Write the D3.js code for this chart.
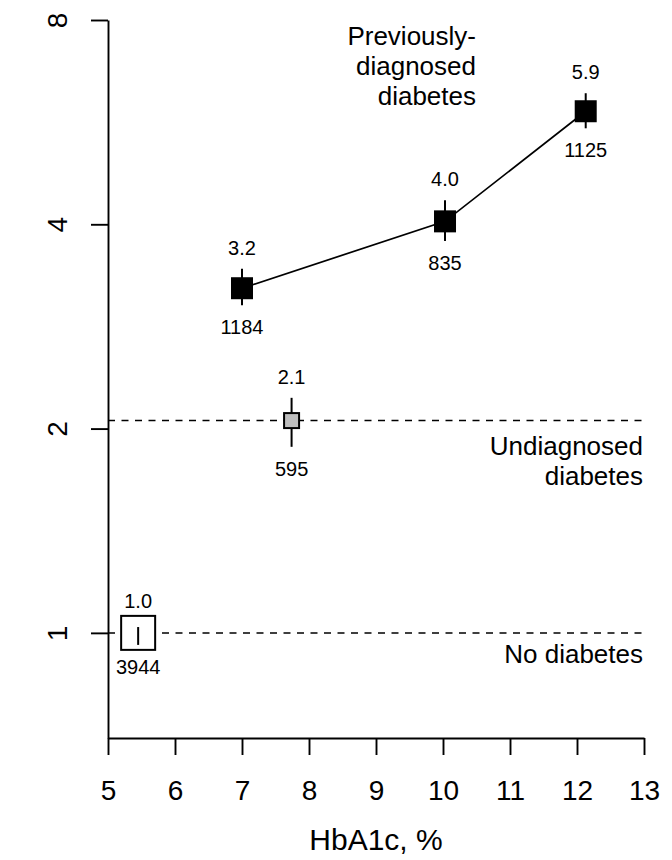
<!DOCTYPE html>
<html>
<head>
<meta charset="utf-8">
<script src="https://cdn.jsdelivr.net/npm/d3@7"></script>
<style>
  body { margin: 0; background: #fff; }
  text { font-family: "Liberation Sans", Arial, sans-serif; fill: #000; }
</style>
</head>
<body>
<div id="chart"></div>
<script>

// data
var groupNames = ["No diabetes", "Undiagnosed diabetes", "Previously-diagnosed diabetes"];
var pointGroup = [0, 1, 2, 2, 2];
var hba1c = [5.45, 7.74, 7.0, 10.03, 12.13];
var ratio = [1.0, 2.055, 3.22, 4.04, 5.87];
var ratioLo = [0.96, 1.88, 3.04, 3.78, 5.54];
var ratioHi = [1.02, 2.22, 3.44, 4.34, 6.24];
var counts = [3944, 595, 1184, 835, 1125];

var xTicks = [5, 6, 7, 8, 9, 10, 11, 12, 13];
var yTicks = [1, 2, 4, 8];

// marker look per group
var markerSize = [34, 15, 22];
var markerFill = ["#ffffff", "#bebebe", "#000000"];

var svgWidth = 672;
var svgHeight = 860;

var svg = d3.select("#chart")
  .append("svg")
  .attr("width", svgWidth)
  .attr("height", svgHeight);

var xScale = d3.scaleLinear()
  .domain([5, 13])
  .range([108, 644]);

var yScale = d3.scaleLog()
  .base(2)
  .domain([0.7, 8])
  .range([738, 20]);

var points = hba1c.map(function(x, i) {
  return {
    x: x, rr: ratio[i], lo: ratioLo[i], hi: ratioHi[i],
    n: counts[i], g: pointGroup[i]
  };
});

// axes
var xAxis = d3.axisBottom(xScale)
  .tickValues(xTicks)
  .tickSize(17)
  .tickSizeOuter(0)
  .tickPadding(25)
  .tickFormat(d3.format("d"));

var yAxis = d3.axisLeft(yScale)
  .tickValues(yTicks)
  .tickSize(17)
  .tickSizeOuter(0)
  .tickFormat(d3.format("d"));

var gx = svg.append("g")
  .attr("transform", "translate(0,738)")
  .call(xAxis);

var gy = svg.append("g")
  .attr("transform", "translate(108,0)")
  .call(yAxis);

[gx, gy].forEach(function(g) {
  g.selectAll("path, line").attr("stroke", "#000").attr("stroke-width", 1.9);
  g.selectAll("text")
    .attr("font-family", "Liberation Sans, Arial, sans-serif")
    .attr("font-size", 28)
    .attr("fill", "#000");
});

gy.selectAll(".tick text")
  .attr("x", null)
  .attr("dy", null)
  .attr("text-anchor", "middle")
  .attr("transform", "translate(-41,0) rotate(-90)");

svg.append("text")
  .attr("x", xScale(9))
  .attr("y", 850)
  .attr("text-anchor", "middle")
  .attr("font-size", 30)
  .text("HbA1c, %");

// reference lines for the no / undiagnosed groups
var refLevels = [ratio[0], ratio[1]];
svg.selectAll(".ref")
  .data(refLevels)
  .enter()
  .append("line")
  .attr("class", "ref")
  .attr("x1", xScale(5))
  .attr("x2", xScale(13))
  .attr("y1", d => yScale(d))
  .attr("y2", d => yScale(d))
  .attr("stroke", "#000")
  .attr("stroke-width", 1.5)
  .attr("stroke-dasharray", "7,6.5");

// line through the previously-diagnosed points
var prev = points.filter(d => d.g == 2);
svg.append("path")
  .datum(prev)
  .attr("fill", "none")
  .attr("stroke", "#000")
  .attr("stroke-width", 1.7)
  .attr("d", d3.line().x(d => xScale(d.x)).y(d => yScale(d.rr)));

function drawBoxes(data) {
  svg.selectAll(null)
    .data(data)
    .enter()
    .append("rect")
    .attr("x", d => xScale(d.x) - markerSize[d.g] / 2)
    .attr("y", d => yScale(d.rr) - markerSize[d.g] / 2)
    .attr("width", d => markerSize[d.g])
    .attr("height", d => markerSize[d.g])
    .attr("fill", d => markerFill[d.g])
    .attr("stroke", "#000")
    .attr("stroke-width", d => d.g == 2 ? 0 : 2);
}

// open box first so its interval shows inside it
drawBoxes(points.filter(d => d.g == 0));

svg.selectAll(".ci")
  .data(points)
  .enter()
  .append("line")
  .attr("class", "ci")
  .attr("x1", d => xScale(d.x))
  .attr("x2", d => xScale(d.x))
  .attr("y1", d => yScale(d.hi))
  .attr("y2", d => yScale(d.lo))
  .attr("stroke", "#000")
  .attr("stroke-width", 2);

drawBoxes(points.filter(d => d.g != 0));

// value above, count below
svg.selectAll(".val")
  .data(points)
  .enter()
  .append("text")
  .attr("class", "val")
  .attr("x", d => xScale(d.x))
  .attr("y", d => Math.min(yScale(d.hi) - 14, yScale(d.rr) - markerSize[d.g] / 2 - 8))
  .attr("text-anchor", "middle")
  .attr("font-size", 20)
  .text(d => d3.format(".1f")(d.rr));

svg.selectAll(".cnt")
  .data(points)
  .enter()
  .append("text")
  .attr("class", "cnt")
  .attr("x", d => xScale(d.x))
  .attr("y", d => yScale(d.lo) + 29)
  .attr("text-anchor", "middle")
  .attr("font-size", 20)
  .text(d => d.n);

// group names
function groupLabel(lines, x, y0) {
  var t = svg.append("text")
    .attr("text-anchor", "end")
    .attr("font-size", 26);
  lines.forEach(function(s, i) {
    t.append("tspan").attr("x", x).attr("y", y0 + i * 30).text(s);
  });
}

groupLabel(["Previously-", "diagnosed", "diabetes"], 476, 45);
groupLabel(["Undiagnosed", "diabetes"], 643, 455);
groupLabel(["No diabetes"], 643, 663);

</script>
</body>
</html>
